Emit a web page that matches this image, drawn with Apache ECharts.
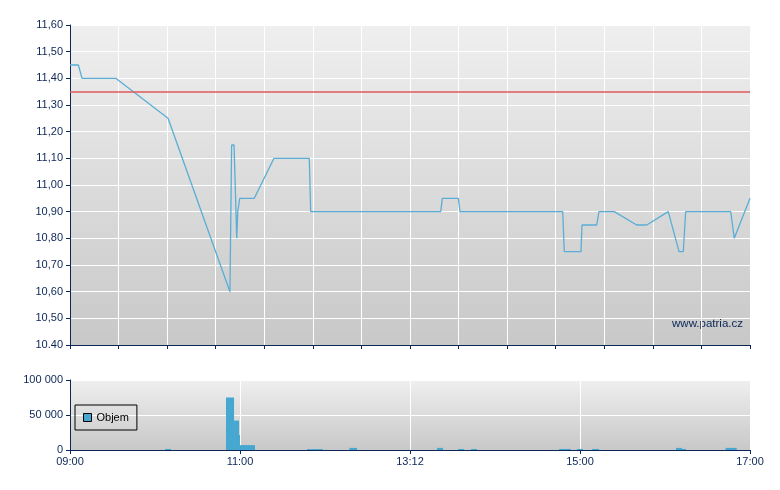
<!DOCTYPE html>
<html>
<head>
<meta charset="utf-8">
<script src="https://cdn.jsdelivr.net/npm/echarts@6/dist/echarts.min.js"></script>
<style>
html,body{margin:0;padding:0;background:#fff;}
#chart{width:780px;height:490px;}
</style>
</head>
<body>
<div id="chart"></div>
<script>
// Minutes since 09:00 and price
const priceTimes = [0, 5.9, 8.5, 32.3, 69.2, 112.9, 114.1, 115.8, 117.7, 118.4, 119.8, 130.1, 144.0, 168.9, 169.9,
  261.7, 262.8, 274.1, 275.3, 347.8, 348.9, 360.7, 361.4, 371.8, 373.4, 384.2, 400.0, 407.1, 422.3, 429.9, 432.9,
  434.6, 466.4, 468.9, 480];
const priceValues = [11.45, 11.45, 11.40, 11.40, 11.25, 10.60, 11.15, 11.15, 10.80, 10.90, 10.95, 10.95, 11.10, 11.10, 10.90,
  10.90, 10.95, 10.95, 10.90, 10.90, 10.75, 10.75, 10.85, 10.85, 10.90, 10.90, 10.85, 10.85, 10.90, 10.75, 10.75,
  10.90, 10.90, 10.80, 10.95];
const referencePrice = 11.35;

// Volume bars: start minute, end minute, volume
const volStart = [67.1, 110.1, 115.8, 119.3, 120.0, 167.3, 197.2, 259.1, 273.9, 283.1, 345.2, 357.9, 368.5, 427.8, 432.0, 462.8];
const volEnd   = [71.3, 115.8, 119.3, 120.0, 130.6, 178.6, 202.6, 263.3, 278.1, 287.3, 353.6, 362.1, 373.4, 432.0, 434.8, 470.6];
const volValue = [1500, 75000, 42000, 21500, 7000, 1300, 3000, 3000, 1500, 1500, 1500, 1500, 1500, 3000, 1500, 3000];

const priceTickLabels = ['10.40','10,50','10,60','10,70','10,80','10,90','11,00','11,10','11,20','11,30','11,40','11,50','11,60'];
const timeTickLabels = ['09:00','11:00','13:12','15:00','17:00'];
const volTickLabels = ['0','50 000','100 000'];
const seriesName = 'Objem';
const watermark = 'www.patria.cz';

const navy = '#0c2657';
const font = 'Liberation Sans, Arial, sans-serif';
const bgTop = {type:'linear',x:0,y:0,x2:0,y2:1,colorStops:[{offset:0,color:'#efefef'},{offset:1,color:'#c8c8c8'}]};
const bgBot = {type:'linear',x:0,y:0,x2:0,y2:1,colorStops:[{offset:0,color:'#efefef'},{offset:1,color:'#c8c8c8'}]};

const chart = echarts.init(document.getElementById('chart'), null, {renderer:'canvas'});
const axisCommon = {
  axisLine:{show:true,lineStyle:{color:navy,width:1}},
  axisTick:{show:true,length:4,lineStyle:{color:navy}},
  axisLabel:{color:navy,fontFamily:font,fontSize:11},
  splitLine:{show:true,lineStyle:{color:'#ffffff',width:1}}
};
chart.setOption({
  animation:false,
  backgroundColor:'#ffffff',
  grid:[
    {left:70, top:25, width:680, height:320, show:true, backgroundColor:bgTop, borderWidth:0},
    {left:70, top:380, width:680, height:70, show:true, backgroundColor:bgBot, borderWidth:0}
  ],
  xAxis:[
    Object.assign({}, axisCommon, {type:'value', gridIndex:0, min:0, max:480, interval:480/14,
      axisLabel:{show:false}}),
    Object.assign({}, axisCommon, {type:'value', gridIndex:1, min:0, max:480, interval:120,
      axisLabel:{color:navy,fontFamily:font,fontSize:11,margin:6,
        formatter:(v)=>timeTickLabels[Math.round(v/120)] || ''}})
  ],
  yAxis:[
    Object.assign({}, axisCommon, {type:'value', gridIndex:0, min:10.4, max:11.6, interval:0.1,
      axisLabel:{color:navy,fontFamily:font,fontSize:11,margin:7,
        formatter:(v)=>priceTickLabels[Math.round((v-10.4)/0.1)] || ''}}),
    Object.assign({}, axisCommon, {type:'value', gridIndex:1, min:0, max:100000, interval:50000,
      axisLabel:{color:navy,fontFamily:font,fontSize:11,margin:7,
        formatter:(v)=>volTickLabels[Math.round(v/50000)] || ''}})
  ],
  legend:{
    data:[{name:seriesName, icon:'rect'}],
    left:75, top:405, orient:'horizontal',
    padding:[7,8,7,8],
    itemWidth:8, itemHeight:8,
    borderColor:'#000', borderWidth:1, borderRadius:0, backgroundColor:'transparent',
    itemStyle:{borderColor:'#000',borderWidth:1},
    textStyle:{color:'#000',fontFamily:font,fontSize:11}
  },
  graphic:[
    {type:'text', right:37, top:318, style:{text:watermark, fill:navy, font:'11.5px '+font}}
  ],
  series:[
    {
      type:'line', xAxisIndex:0, yAxisIndex:0,
      data:priceTimes.map((t,i)=>[t,priceValues[i]]),
      showSymbol:false, lineStyle:{color:'#5aaed6',width:1.3}, itemStyle:{color:'#5aaed6'},
      markLine:{silent:true, symbol:['none','none'], label:{show:false},
        lineStyle:{color:'#e05a5a',width:1.5,type:'solid'},
        data:[{yAxis:referencePrice}]}
    },
    {
      name:seriesName, type:'custom', xAxisIndex:1, yAxisIndex:1,
      itemStyle:{color:'#46a8d0'},
      encode:{x:[0,1], y:2},
      data:volStart.map((s,i)=>[s, volEnd[i], volValue[i]]),
      renderItem:function(params, api){
        const p0 = api.coord([api.value(0), api.value(2)]);
        const p1 = api.coord([api.value(1), 0]);
        return {type:'rect', shape:{x:p0[0], y:p0[1], width:p1[0]-p0[0], height:p1[1]-p0[1]},
          style:{fill:'#46a8d0'}};
      }
    }
  ]
});
</script>
</body>
</html>
